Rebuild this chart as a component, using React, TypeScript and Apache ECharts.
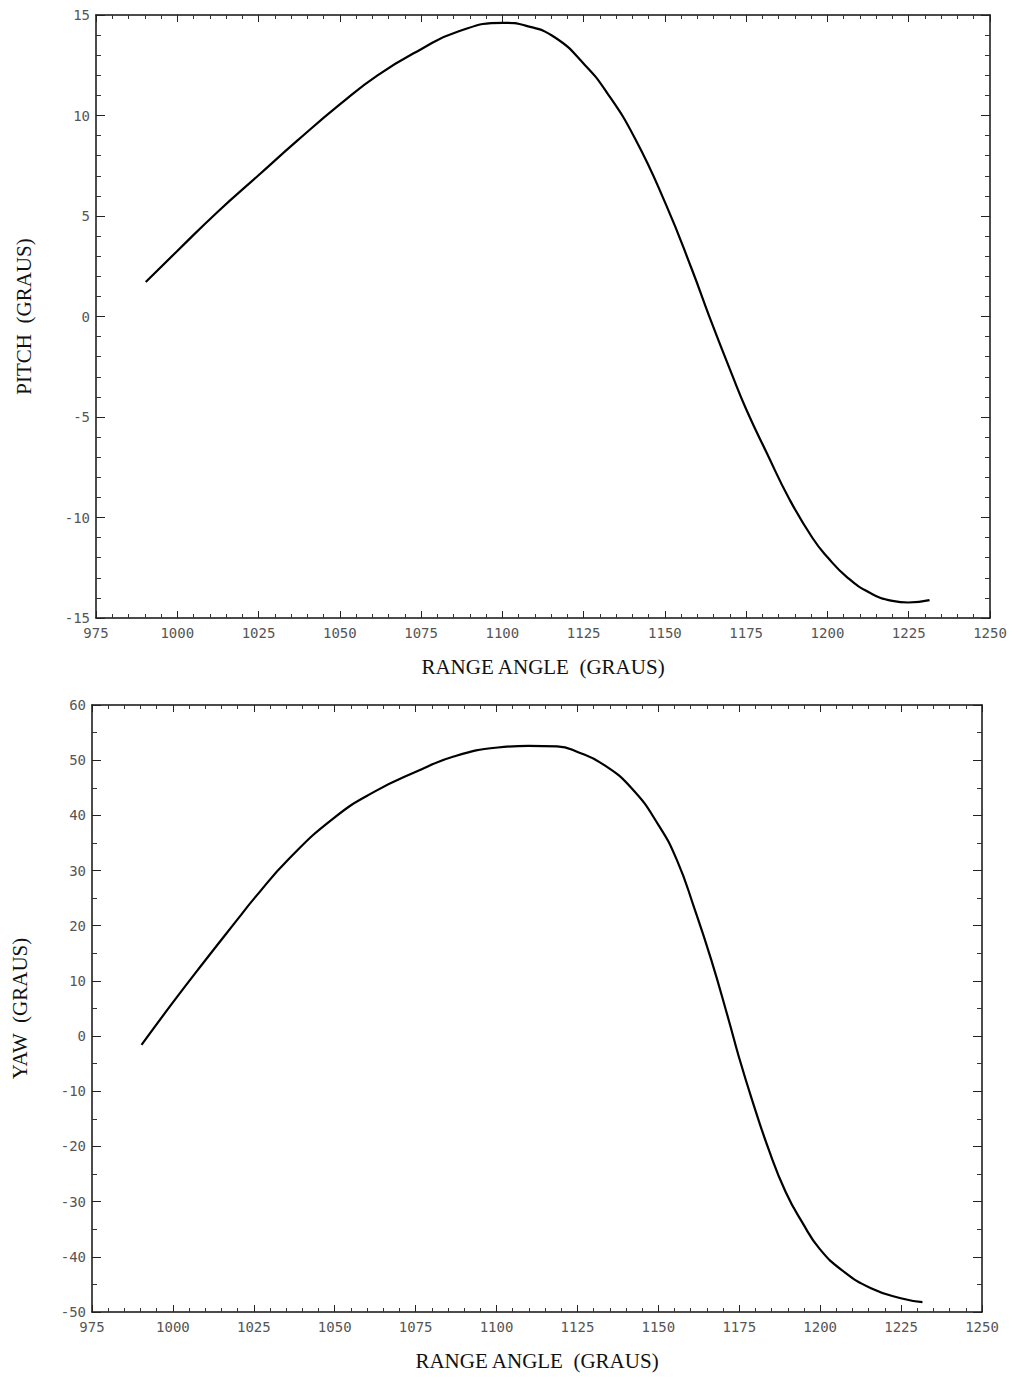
import React, { useEffect, useRef } from "react";
import * as echarts from "echarts";

// Range angle tick labels (shared by both panels)
const rangeTicks = [975, 1000, 1025, 1050, 1075, 1100, 1125, 1150, 1175, 1200, 1225, 1250];
const pitchTicks = [-15, -10, -5, 0, 5, 10, 15];
const yawTicks = [-50, -40, -30, -20, -10, 0, 10, 20, 30, 40, 50, 60];

// Pitch curve (degrees) vs range angle (degrees)
const pitchRange = [990.3, 1000, 1012.3, 1025, 1037, 1050, 1061.6, 1075, 1086.2, 1100.1, 1107.4, 1116.2, 1125.3, 1132, 1140.8, 1150.3, 1158.4, 1163.7, 1170.7, 1175.1, 1181.3, 1188.3, 1195.4, 1200.1, 1205.9, 1212.9, 1220, 1224.9, 1231.4];
const pitchValues = [1.72, 3.26, 5.19, 7.03, 8.76, 10.55, 12.0, 13.3, 14.17, 14.61, 14.46, 13.88, 12.53, 11.18, 8.86, 5.58, 2.3, -0.02, -2.92, -4.65, -6.78, -9.09, -11.02, -11.99, -12.95, -13.73, -14.15, -14.23, -14.11];

// Yaw curve (degrees) vs range angle (degrees)
const yawRange = [990.3, 1000, 1009.3, 1019.9, 1025.2, 1035.8, 1049.9, 1062.3, 1075.1, 1087, 1100.4, 1109.9, 1118.7, 1125.4, 1132.8, 1141.6, 1150.1, 1155.8, 1161.1, 1166.3, 1171.6, 1174.8, 1178.7, 1184, 1189.3, 1194.6, 1199.9, 1206.9, 1215.7, 1224.9, 1231.6];
const yawValues = [-1.6, 6.1, 13.2, 21.1, 25.0, 32.1, 39.6, 44.3, 47.9, 50.7, 52.3, 52.6, 52.5, 51.4, 49.3, 45.0, 38.2, 31.8, 23.2, 13.9, 3.2, -3.6, -11.1, -20.4, -28.2, -33.9, -38.6, -42.5, -45.7, -47.5, -48.2];

const MONO = "DejaVu Sans Mono";
const SERIF = "Liberation Serif";

function xAxisPair(gridIndex: number) {
  const base = {
    type: "value" as const,
    gridIndex,
    min: rangeTicks[0],
    max: rangeTicks[rangeTicks.length - 1],
    interval: 25,
    splitLine: { show: false },
    axisLine: { show: true, onZero: false, lineStyle: { color: "#111", width: 1.5 } },
    axisTick: { show: true, inside: true, length: 7, lineStyle: { color: "#222" } },
    minorTick: { show: true, splitNumber: 5, length: 4, lineStyle: { color: "#333" } },
  };
  return [
    {
      ...base,
      position: "bottom",
      name: "RANGE ANGLE  (GRAUS)",
      nameLocation: "middle",
      nameGap: 38,
      nameTextStyle: { fontFamily: SERIF, fontSize: 21, color: "#111" },
      axisLabel: {
        show: true,
        fontFamily: MONO,
        fontSize: 14,
        color: "#555",
        margin: 8,
        formatter: (v: number) => String(v),
      },
    },
    { ...base, position: "top", axisLabel: { show: false } },
  ];
}

function yAxisPair(gridIndex: number, ticks: number[], interval: number, minorSplit: number, name: string) {
  const base = {
    type: "value" as const,
    gridIndex,
    min: ticks[0],
    max: ticks[ticks.length - 1],
    interval,
    splitLine: { show: false },
    axisLine: { show: true, onZero: false, lineStyle: { color: "#111", width: 1.5 } },
    axisTick: { show: true, inside: true, length: 9, lineStyle: { color: "#222" } },
    minorTick: { show: true, splitNumber: minorSplit, length: 5, lineStyle: { color: "#333" } },
  };
  return [
    {
      ...base,
      position: "left",
      name,
      nameLocation: "middle",
      nameGap: 62,
      nameTextStyle: { fontFamily: SERIF, fontSize: 21, color: "#111" },
      axisLabel: {
        show: true,
        fontFamily: MONO,
        fontSize: 14,
        color: "#555",
        margin: 6,
        formatter: (v: number) => String(v),
      },
    },
    { ...base, position: "right", axisLabel: { show: false } },
  ];
}

export default function App() {
  const ref = useRef<HTMLDivElement>(null);

  useEffect(() => {
    if (!ref.current) return;
    const chart = echarts.init(ref.current, null, { renderer: "svg" });
    const pitchData = pitchRange.map((x, i) => [x, pitchValues[i]]);
    const yawData = yawRange.map((x, i) => [x, yawValues[i]]);

    chart.setOption({
      animation: false,
      backgroundColor: "#ffffff",
      grid: [
        { left: 96, top: 15, width: 894, height: 603 },
        { left: 92, top: 705, width: 890, height: 607 },
      ],
      xAxis: [...xAxisPair(0), ...xAxisPair(1)],
      yAxis: [
        ...yAxisPair(0, pitchTicks, 5, 5, "PITCH  (GRAUS)"),
        ...yAxisPair(1, yawTicks, 10, 2, "YAW  (GRAUS)"),
      ],
      series: [
        {
          type: "line",
          xAxisIndex: 0,
          yAxisIndex: 0,
          data: pitchData,
          smooth: 0.5,
          showSymbol: false,
          lineStyle: { color: "#000", width: 2.2 },
        },
        {
          type: "line",
          xAxisIndex: 2,
          yAxisIndex: 2,
          data: yawData,
          smooth: 0.5,
          showSymbol: false,
          lineStyle: { color: "#000", width: 2.2 },
        },
      ],
    });

    return () => chart.dispose();
  }, []);

  return (
    <div
      ref={ref}
      style={{ position: "absolute", left: 0, top: 0, width: 1028, height: 1379, background: "#fff" }}
    />
  );
}
